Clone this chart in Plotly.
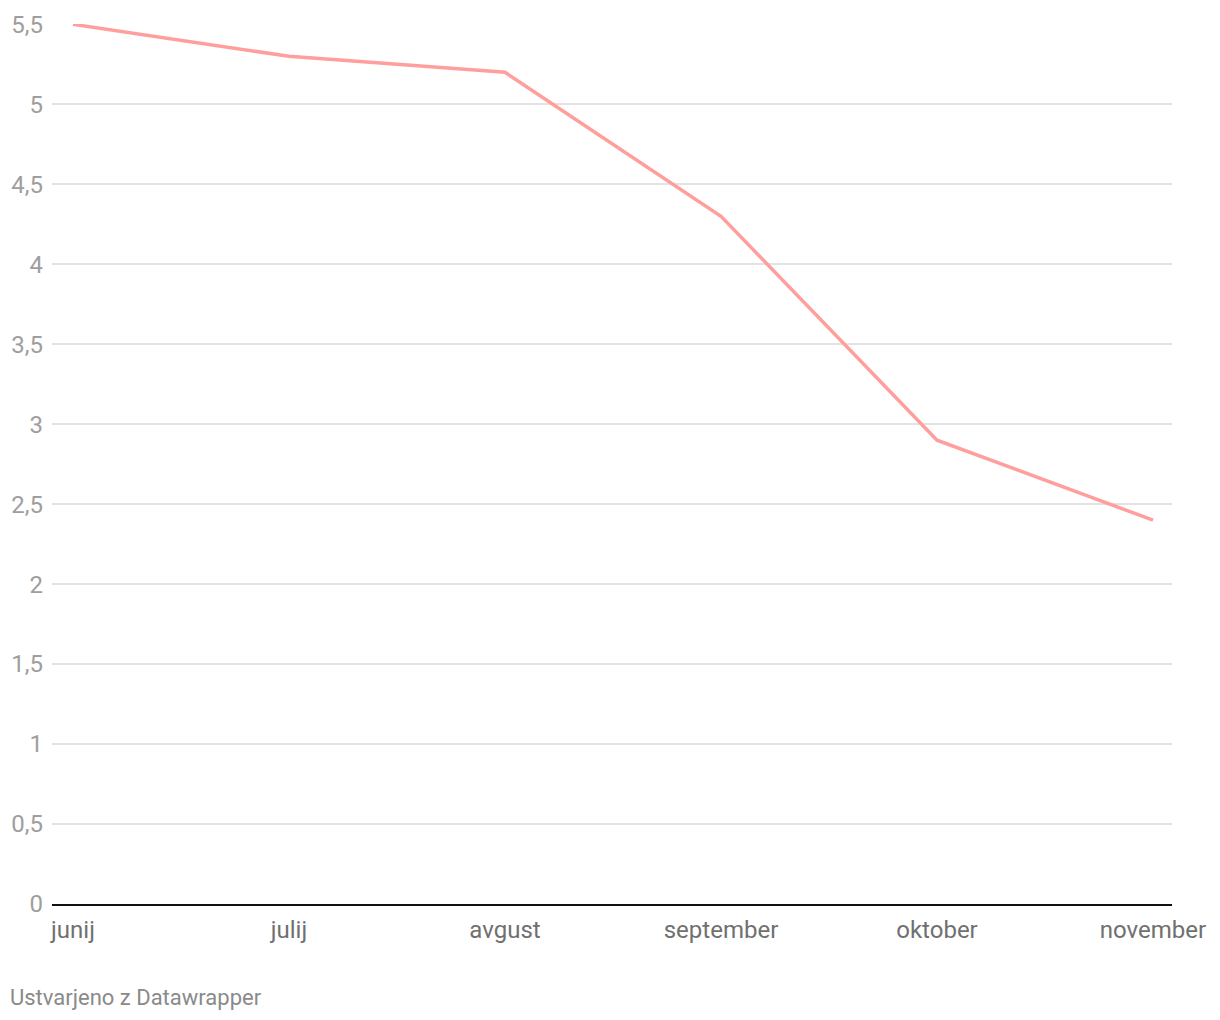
import plotly.graph_objects as go

months = ["junij", "julij", "avgust", "september", "oktober", "november"]
values = [5.5, 5.3, 5.2, 4.3, 2.9, 2.4]
y_tick_vals = [0, 0.5, 1, 1.5, 2, 2.5, 3, 3.5, 4, 4.5, 5, 5.5]
y_tick_text = ["0", "0,5", "1", "1,5", "2", "2,5", "3", "3,5", "4", "4,5", "5", "5,5"]
footer = "Ustvarjeno z Datawrapper"

fig = go.Figure()
fig.add_trace(go.Scatter(
    x=list(range(len(months))), y=values, mode="lines",
    line=dict(color="#ff9f9d", width=3.5), cliponaxis=False,
    hoverinfo="skip", showlegend=False,
))

fig.update_layout(
    width=1220, height=1020,
    margin=dict(l=44, r=56, t=16, b=124, pad=0),
    paper_bgcolor="white", plot_bgcolor="white",
    font=dict(family="Roboto", color="#999999"),
    xaxis=dict(
        range=[-21/216, 5 + 19/216],
        tickvals=list(range(len(months))), ticktext=months,
        showgrid=False, zeroline=False, automargin=False,
        showline=True, linecolor="#111111", linewidth=2,
        ticks="outside", ticklen=3, tickcolor="rgba(0,0,0,0)",
        tickfont=dict(size=24, color="#707070"),
        fixedrange=True,
    ),
    yaxis=dict(
        range=[0, 5.502],
        tickvals=y_tick_vals, ticktext=y_tick_text,
        showgrid=True, gridcolor="#e3e3e3", gridwidth=1.5,
        zeroline=False, showline=False, automargin=False,
        ticks="", ticklabelstandoff=8,
        tickfont=dict(size=24, color="#9e9e9e"),
        fixedrange=True,
    ),
    annotations=[dict(
        text=footer, xref="paper", yref="paper",
        x=-44/1120, y=(904 - 997) / 880, xanchor="left", yanchor="middle",
        showarrow=False, font=dict(size=22, color="#8a8a8a", family="Roboto"),
    )],
)

fig.write_html("out.html")
